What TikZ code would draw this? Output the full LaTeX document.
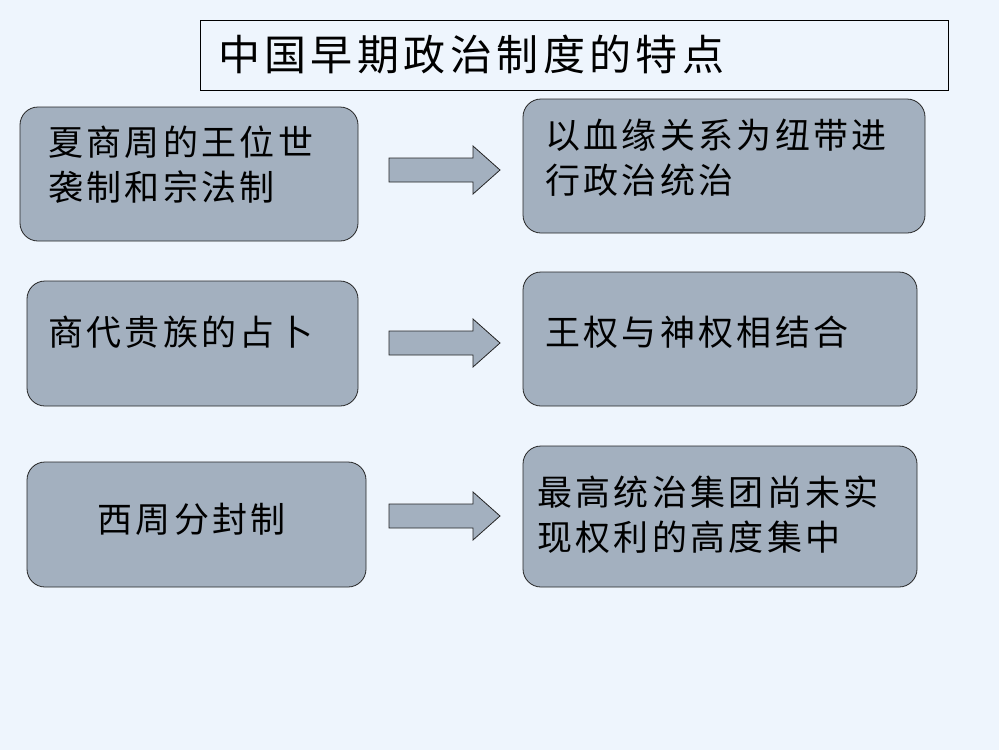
\documentclass[tikz,border=0pt]{standalone}
\usepackage{fontspec}
\newfontfamily\cjk[LetterSpace=9.5]{Noto Sans CJK SC}
\newfontfamily\cjktitle[LetterSpace=10.5]{Noto Sans CJK SC}
\definecolor{bg}{HTML}{EEF5FD}
\definecolor{boxfill}{HTML}{A3B0BF}
\begin{document}
\begin{tikzpicture}[x=1pt,y=-1pt,
  box/.style={draw=black!85, fill=boxfill, rounded corners=18pt, line width=0.8pt, inner sep=0},
  txt/.style={font=\cjk\fontsize{35}{45}\selectfont, anchor=west, inner sep=0, align=left},
  blockarrow/.style={draw=black!85, fill=boxfill, line width=0.8pt, line join=miter}]
\fill[bg] (0,0) rectangle (999,750);
\useasboundingbox (0,0) rectangle (999,750);
% title
\node[draw=black, fill=bg, line width=0.8pt, minimum width=748, minimum height=70, inner sep=0] (title) at (574,55) {};
\node[font=\cjktitle\fontsize{42}{50}\selectfont, anchor=west, inner sep=0] (titletext) at (218,55) {中国早期政治制度的特点};
% row 1
\node[box, minimum width=338, minimum height=134] (l1) at (189,174) {};
\node[txt] (tl1) at (48,165) {夏商周的王位世\\袭制和宗法制};
\node[box, minimum width=402, minimum height=134] (r1) at (724,166) {};
\node[txt] (tr1) at (545,158) {以血缘关系为纽带进\\行政治统治};
% row 2
\node[box, minimum width=331, minimum height=125] (l2) at (192.5,343.5) {};
\node[txt] (tl2) at (48,332) {商代贵族的占卜};
\node[box, minimum width=394, minimum height=134] (r2) at (720,339) {};
\node[txt] (tr2) at (545,332) {王权与神权相结合};
% row 3
\node[box, minimum width=339, minimum height=125] (l3) at (196.5,524.5) {};
\node[txt, anchor=center] (tl3) at (191.5,519) {西周分封制};
\node[box, minimum width=394, minimum height=141] (r3) at (720,516.5) {};
\node[txt] (tr3) at (537,514.5) {最高统治集团尚未实\\现权利的高度集中};
% arrows
\foreach \yc in {170,343,516}{
  \draw[blockarrow] (389,\yc-12) -- (473,\yc-12) -- (473,\yc-24) -- (500,\yc) -- (473,\yc+24) -- (473,\yc+12) -- (389,\yc+12) -- cycle;
}
\end{tikzpicture}
\end{document}
